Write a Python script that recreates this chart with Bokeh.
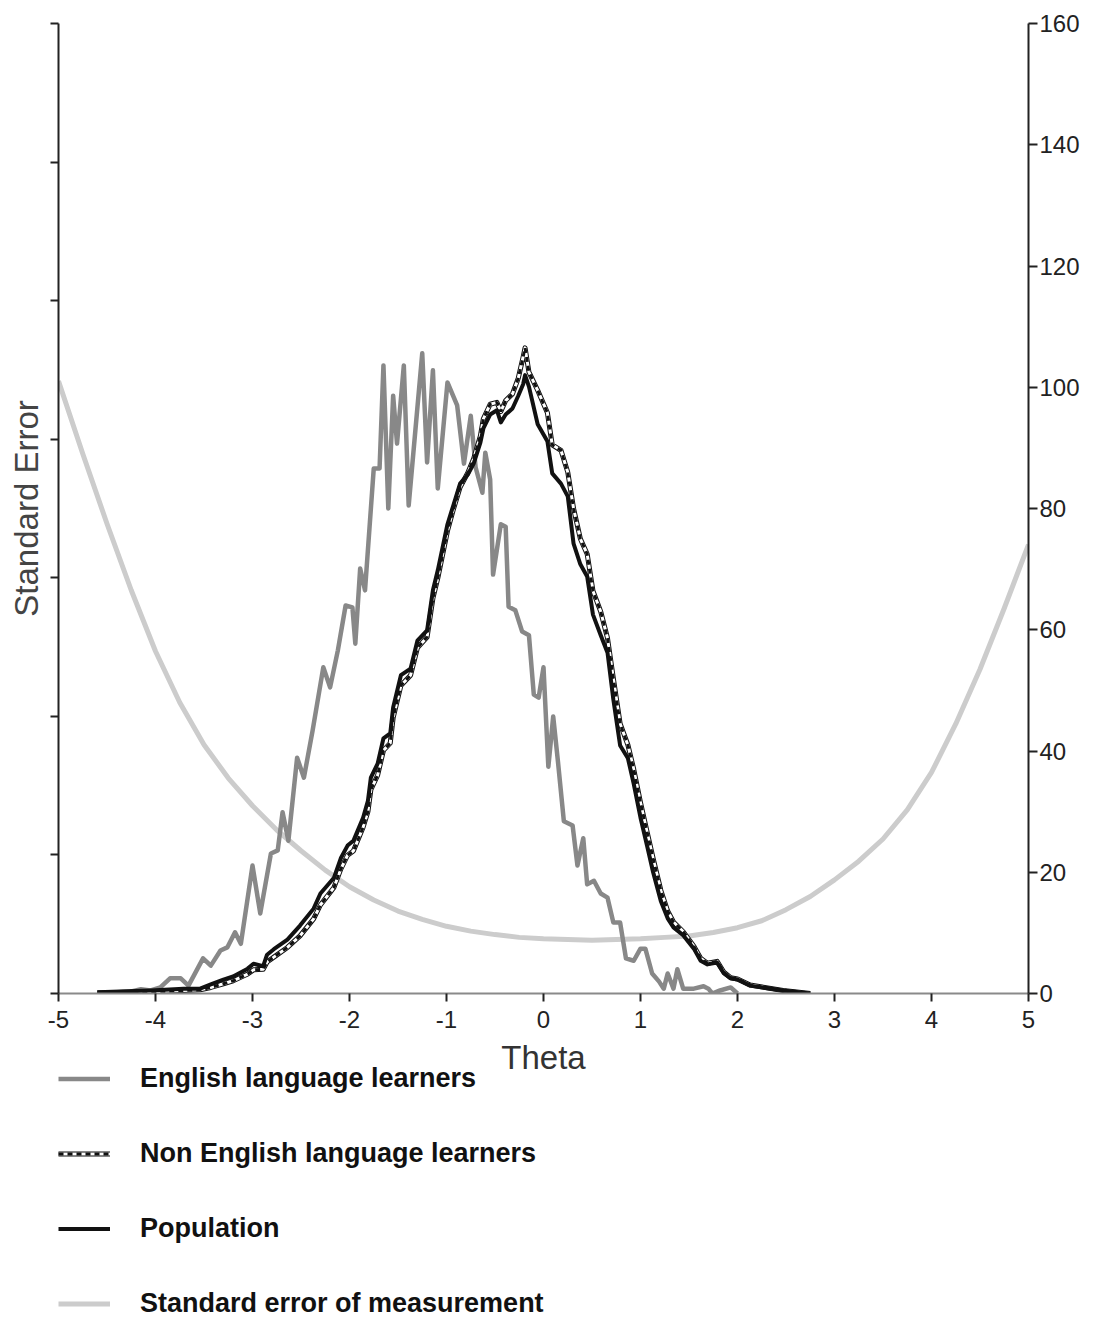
from bokeh.plotting import figure
from bokeh.layouts import column
from bokeh.models import (Range1d, LinearAxis, Legend, LegendItem, FixedTicker,
                          ColumnDataSource, Label)
from bokeh.embed import file_html
from bokeh.resources import INLINE

# ---------------- data ----------------
x_ticks = [-5, -4, -3, -2, -1, 0, 1, 2, 3, 4, 5]
count_ticks = [0, 20, 40, 60, 80, 100, 120, 140, 160]
se_ticks = [0.0, 0.2, 0.4, 0.6, 0.8, 1.0, 1.2, 1.4]

ell_theta = [-4.50, -4.40, -4.26, -4.15, -4.05, -3.95, -3.85, -3.74, -3.66,
             -3.51, -3.43, -3.33, -3.26, -3.18, -3.12,
             -3.00, -2.92, -2.81, -2.74, -2.69, -2.63,
             -2.54, -2.47, -2.38, -2.27, -2.20, -2.12, -2.04, -1.97, -1.94,
             -1.89, -1.84, -1.75, -1.69, -1.65, -1.60, -1.55, -1.51, -1.44, -1.39,
             -1.25, -1.20, -1.14, -1.09, -0.99, -0.89, -0.82, -0.75, -0.70, -0.63,
             -0.60, -0.55, -0.52, -0.44, -0.39, -0.36, -0.29, -0.22, -0.15, -0.10,
             -0.05, 0.00, 0.05, 0.10, 0.15, 0.21, 0.30, 0.35, 0.41, 0.45,
             0.52, 0.59, 0.66, 0.72, 0.79, 0.85, 0.93, 1.00, 1.05, 1.12,
             1.19, 1.24, 1.28, 1.34, 1.38, 1.44, 1.55, 1.65, 1.70, 1.74,
             1.82, 1.93, 2.00]
ell_count = [0.0, 0.2, 0.3, 0.7, 0.5, 1.0, 2.5, 2.5, 1.3,
             5.8, 4.6, 7.1, 7.6, 10.1, 8.2,
             21.1, 13.2, 23.1, 23.6, 29.9, 25.2,
             38.9, 35.6, 43.4, 53.8, 50.5, 56.6, 64.0, 63.7, 57.7,
             70.1, 66.5, 86.6, 86.6, 103.6, 80.0, 98.6, 90.7, 103.6, 80.5,
             105.6, 87.6, 102.8, 83.3, 100.8, 97.0, 87.4, 95.3, 86.8, 82.6,
             89.2, 84.8, 69.1, 77.4, 77.0, 63.8, 63.2, 59.7, 59.1, 49.3,
             48.8, 53.8, 37.4, 45.7, 38.1, 28.4, 27.7, 21.1, 25.6, 18.0,
             18.6, 16.5, 15.8, 11.7, 11.7, 5.8, 5.4, 7.4, 7.4, 3.3,
             2.0, 0.8, 3.3, 0.8, 4.0, 0.8, 0.8, 1.2, 0.8, 0.0,
             0.5, 1.0, 0.0]

grp_theta = [-4.60, -4.05, -3.71, -3.54, -3.43, -3.30, -3.20, -3.05, -2.99, -2.89,
             -2.85, -2.78, -2.64, -2.51, -2.37, -2.30, -2.16, -2.09, -2.02, -1.96,
             -1.86, -1.81, -1.78, -1.71, -1.65, -1.58, -1.55, -1.47, -1.37, -1.30,
             -1.20, -1.14, -1.09, -0.99, -0.93, -0.86, -0.78, -0.72, -0.65, -0.62,
             -0.55, -0.48, -0.44, -0.39, -0.32, -0.26, -0.21, -0.19, -0.15, -0.06,
             0.04, 0.09, 0.18, 0.25, 0.31, 0.38, 0.45, 0.51, 0.59, 0.66,
             0.72, 0.79, 0.87, 0.93, 1.00, 1.07, 1.13, 1.21, 1.28, 1.34,
             1.44, 1.55, 1.62, 1.69, 1.79, 1.86, 1.93, 2.00, 2.13, 2.47,
             2.75]
pop_count = [0.2, 0.5, 0.8, 0.8, 1.5, 2.3, 2.8, 4.1, 4.9, 4.5,
             6.4, 7.3, 8.9, 11.2, 14.0, 16.5, 19.1, 22.3, 24.4, 25.2,
             29.0, 31.8, 35.6, 37.9, 42.1, 42.9, 47.2, 52.5, 53.6, 58.2,
             59.9, 66.5, 69.8, 77.4, 80.5, 84.1, 85.6, 87.4, 90.9, 93.2,
             95.5, 96.2, 94.2, 95.5, 96.5, 98.6, 100.5, 102.0, 100.1, 93.9,
             91.1, 85.8, 84.1, 82.0, 74.2, 70.8, 68.8, 62.5, 59.1, 56.2,
             48.5, 40.9, 38.8, 34.6, 29.0, 24.2, 20.0, 15.2, 12.4, 10.9,
             9.6, 7.4, 5.4, 4.8, 5.1, 3.3, 2.5, 2.3, 1.3, 0.5,
             0.0]
non_ell_count = [0.1, 0.3, 0.5, 0.6, 1.0, 1.6, 2.1, 3.2, 3.9, 4.0,
                 5.2, 6.0, 7.6, 9.5, 12.3, 14.6, 17.5, 20.5, 22.8, 23.5,
                 27.4, 30.0, 33.6, 36.0, 40.1, 41.3, 45.5, 50.8, 52.5, 57.0,
                 58.8, 65.2, 68.5, 76.3, 79.8, 83.5, 85.9, 88.2, 92.0, 94.8,
                 97.2, 97.5, 96.0, 97.8, 98.9, 101.5, 105.0, 106.5, 102.5, 99.5,
                 95.8, 90.5, 89.6, 86.0, 80.0, 75.0, 72.5, 66.4, 63.0, 58.6,
                 52.0, 44.5, 41.0, 37.0, 31.5, 26.5, 22.3, 17.0, 13.6, 11.8,
                 10.2, 7.8, 5.8, 5.0, 5.3, 3.5, 2.6, 2.4, 1.4, 0.5,
                 0.0]

sem_theta = [-5.00, -4.75, -4.50, -4.25, -4.00, -3.75, -3.50, -3.25, -3.00, -2.75,
             -2.50, -2.25, -2.00, -1.75, -1.50, -1.25, -1.00, -0.75, -0.50, -0.25,
             0.00, 0.25, 0.50, 0.75, 1.00, 1.25, 1.50, 1.75, 2.00, 2.25,
             2.50, 2.75, 3.00, 3.25, 3.50, 3.75, 4.00, 4.25, 4.50, 4.75,
             5.00]
sem_value = [0.884, 0.779, 0.678, 0.582, 0.494, 0.420, 0.359, 0.311, 0.271, 0.236,
             0.206, 0.178, 0.154, 0.135, 0.119, 0.107, 0.097, 0.090, 0.085, 0.081,
             0.079, 0.078, 0.077, 0.078, 0.079, 0.081, 0.083, 0.088, 0.095, 0.105,
             0.121, 0.140, 0.164, 0.191, 0.223, 0.265, 0.319, 0.389, 0.468, 0.556,
             0.648]

x_title = "Theta"
y_title = "Standard Error"
legend_labels = ["English language learners", "Non English language learners",
                 "Population", "Standard error of measurement"]

# ---------------- styles ----------------
FONT = "Liberation Sans"
ELL_STYLE = dict(line_color="#888888", line_width=4.5, line_join="round")
NON_OUTER = dict(line_color="#111111", line_width=5, line_join="round")
NON_INNER = dict(line_color="white", line_width=3, line_join="round")
NON_DASH = dict(line_color="#111111", line_width=3, line_dash="5 4")
POP_STYLE = dict(line_color="#111111", line_width=4, line_join="round")
SEM_STYLE = dict(line_color="#cccccc", line_width=5, line_join="round")

sem_src = ColumnDataSource(dict(x=sem_theta, y=sem_value))
ell_src = ColumnDataSource(dict(x=ell_theta, y=ell_count))
non_src = ColumnDataSource(dict(x=grp_theta, y=non_ell_count))
pop_src = ColumnDataSource(dict(x=grp_theta, y=pop_count))

# ---------------- main figure ----------------
p = figure(frame_width=970, frame_height=970,
           x_range=Range1d(-5, 5), y_range=Range1d(0, 160),
           y_axis_location="right",
           output_backend="svg", toolbar_location=None,
           min_border_left=58, min_border_right=70, min_border_top=23,
           min_border_bottom=45, background_fill_color="white",
           border_fill_color="white")
p.outline_line_color = None
p.xgrid.visible = False
p.ygrid.visible = False
p.extra_y_ranges = {"se": Range1d(0, 1.4)}

xa = p.below[0]
xa.ticker = FixedTicker(ticks=x_ticks)
xa.major_label_overrides = {t: str(t) for t in x_ticks}
xa.major_label_text_font = FONT
xa.major_label_text_font_size = "24px"
xa.major_label_text_color = "#222222"
xa.major_label_standoff = 9
xa.major_tick_in = 0
xa.major_tick_out = 8
xa.minor_tick_line_color = None
xa.axis_line_color = "#8a8a8a"
xa.axis_line_width = 2
xa.major_tick_line_color = "#222222"
xa.major_tick_line_width = 2

ra = p.right[0]
ra.ticker = FixedTicker(ticks=count_ticks)
ra.major_label_text_font = FONT
ra.major_label_text_font_size = "24px"
ra.major_label_text_color = "#222222"
ra.major_label_standoff = 2
ra.major_tick_in = 0
ra.major_tick_out = 9
ra.minor_tick_line_color = None
ra.axis_line_color = "#222222"
ra.axis_line_width = 2
ra.major_tick_line_color = "#222222"
ra.major_tick_line_width = 2

la = LinearAxis(y_range_name="se", ticker=FixedTicker(ticks=se_ticks),
                axis_label=y_title)
la.major_label_overrides = {t: "" for t in se_ticks}
la.major_label_standoff = 0
la.major_tick_in = 0
la.major_tick_out = 8
la.minor_tick_line_color = None
la.axis_line_color = "#222222"
la.axis_line_width = 2
la.major_tick_line_color = "#222222"
la.major_tick_line_width = 2
la.axis_label_text_font = FONT
la.axis_label_text_font_size = "33px"
la.axis_label_text_font_style = "normal"
la.axis_label_text_color = "#444444"
la.axis_label_standoff = 6
p.add_layout(la, "left")

p.line("x", "y", source=sem_src, y_range_name="se", **SEM_STYLE)
p.line("x", "y", source=ell_src, **ELL_STYLE)
p.line("x", "y", source=non_src, **NON_OUTER)
p.line("x", "y", source=non_src, **NON_INNER)
p.line("x", "y", source=non_src, **NON_DASH)
p.line("x", "y", source=pop_src, **POP_STYLE)

# ---------------- strip below: x title + legend ----------------
# (same sources; its y range keeps the series out of view, only the legend shows)
Q_H = 281
q = figure(frame_width=970, frame_height=Q_H,
           x_range=Range1d(-5, 5), y_range=Range1d(1000, 1001),
           output_backend="svg", toolbar_location=None,
           x_axis_location=None, y_axis_location=None,
           min_border_left=58, min_border_right=70, min_border_top=0,
           min_border_bottom=0, background_fill_color="white",
           border_fill_color="white")
q.outline_line_color = None
q.xgrid.visible = False
q.ygrid.visible = False

q_ell = q.line("x", "y", source=ell_src, **ELL_STYLE)
q_n1 = q.line("x", "y", source=non_src, **NON_OUTER)
q_n2 = q.line("x", "y", source=non_src, **NON_INNER)
q_n3 = q.line("x", "y", source=non_src, **NON_DASH)
q_pop = q.line("x", "y", source=pop_src, **POP_STYLE)
q_sem = q.line("x", "y", source=sem_src, **SEM_STYLE)

q.add_layout(Label(x=0, x_units="data", y=Q_H, y_units="screen", text=x_title,
                   text_align="center", text_baseline="top",
                   text_font=FONT, text_font_size="33px",
                   text_color="#333333"))

legend = Legend(items=[
    LegendItem(label=legend_labels[0], renderers=[q_ell]),
    LegendItem(label=legend_labels[1], renderers=[q_n1, q_n2, q_n3]),
    LegendItem(label=legend_labels[2], renderers=[q_pop]),
    LegendItem(label=legend_labels[3], renderers=[q_sem]),
], location=(0, 0), orientation="vertical")
legend.border_line_color = None
legend.background_fill_alpha = 0
legend.padding = 0
legend.margin = 0
legend.spacing = 44
legend.glyph_width = 52
legend.glyph_height = 25
legend.label_height = 25
legend.label_standoff = 30
legend.label_text_font = FONT
legend.label_text_font_size = "27px"
legend.label_text_font_style = "bold"
legend.label_text_color = "#111111"
q.add_layout(legend)

layout = column(p, q, spacing=0)
open("out.html", "w").write(file_html(layout, INLINE))
